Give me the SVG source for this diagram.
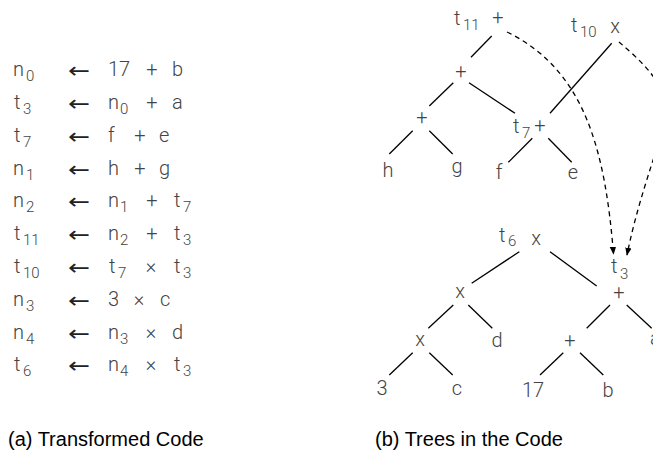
<svg xmlns="http://www.w3.org/2000/svg" width="653" height="452" viewBox="0 0 653 452">
<style>
.m{font-family:Roboto,"Liberation Sans",sans-serif;font-weight:300;font-size:20px;fill:#444}
.s{font-size:15px}
.ar{font-family:"DejaVu Sans",sans-serif;font-size:22px;fill:#222}
.mid{text-anchor:middle}
.cap{font-family:"Liberation Sans",Arial,sans-serif;font-size:20px;fill:#000}
.e line{stroke:#000;stroke-width:1.3}
.d{fill:none;stroke:#000;stroke-width:1.3;stroke-dasharray:5 4;marker-end:url(#ah)}
</style>
<defs>
<marker id="ah" viewBox="0 0 10 10" refX="9" refY="5" markerWidth="8" markerHeight="8" markerUnits="userSpaceOnUse" orient="auto">
<path d="M0,1 L10,5 L0,9 Z" fill="#000"/>
</marker>
</defs>
<g id="code">
<g id="r0"><text class="m" x="13" y="76">n</text><text class="m s" x="26" y="81">0</text><text class="ar" x="68" y="78" textLength="22" lengthAdjust="spacingAndGlyphs">←</text><text class="m" x="108" y="76">17</text><text class="m mid" x="152" y="76">+</text><text class="m" x="172" y="76">b</text></g>
<g id="r1"><text class="m" x="14" y="109">t</text><text class="m s" x="23" y="114">3</text><text class="ar" x="68" y="111" textLength="22" lengthAdjust="spacingAndGlyphs">←</text><text class="m" x="108" y="109">n</text><text class="m s" x="120" y="114">0</text><text class="m mid" x="152" y="109">+</text><text class="m" x="172" y="109">a</text></g>
<g id="r2"><text class="m" x="14" y="142">t</text><text class="m s" x="23" y="147">7</text><text class="ar" x="68" y="144" textLength="22" lengthAdjust="spacingAndGlyphs">←</text><text class="m" x="108" y="142">f</text><text class="m mid" x="140" y="142">+</text><text class="m" x="159" y="142">e</text></g>
<g id="r3"><text class="m" x="13" y="175">n</text><text class="m s" x="26" y="180">1</text><text class="ar" x="68" y="177" textLength="22" lengthAdjust="spacingAndGlyphs">←</text><text class="m" x="108" y="175">h</text><text class="m mid" x="140" y="175">+</text><text class="m" x="159" y="175">g</text></g>
<g id="r4"><text class="m" x="13" y="207">n</text><text class="m s" x="26" y="212">2</text><text class="ar" x="68" y="209" textLength="22" lengthAdjust="spacingAndGlyphs">←</text><text class="m" x="108" y="207">n</text><text class="m s" x="120" y="212">1</text><text class="m mid" x="152" y="207">+</text><text class="m" x="174" y="207">t</text><text class="m s" x="183" y="212">7</text></g>
<g id="r5"><text class="m" x="14" y="240">t</text><text class="m s" x="23" y="245">11</text><text class="ar" x="68" y="242" textLength="22" lengthAdjust="spacingAndGlyphs">←</text><text class="m" x="108" y="240">n</text><text class="m s" x="120" y="245">2</text><text class="m mid" x="152" y="240">+</text><text class="m" x="174" y="240">t</text><text class="m s" x="183" y="245">3</text></g>
<g id="r6"><text class="m" x="14" y="273">t</text><text class="m s" x="23" y="278">10</text><text class="ar" x="68" y="275" textLength="22" lengthAdjust="spacingAndGlyphs">←</text><text class="m" x="109" y="273">t</text><text class="m s" x="118" y="278">7</text><text class="m mid" x="151" y="273">×</text><text class="m" x="174" y="273">t</text><text class="m s" x="183" y="278">3</text></g>
<g id="r7"><text class="m" x="13" y="306">n</text><text class="m s" x="26" y="311">3</text><text class="ar" x="68" y="308" textLength="22" lengthAdjust="spacingAndGlyphs">←</text><text class="m" x="108" y="306">3</text><text class="m mid" x="139" y="306">×</text><text class="m" x="160" y="306">c</text></g>
<g id="r8"><text class="m" x="13" y="339">n</text><text class="m s" x="26" y="344">4</text><text class="ar" x="68" y="341" textLength="22" lengthAdjust="spacingAndGlyphs">←</text><text class="m" x="108" y="339">n</text><text class="m s" x="120" y="344">3</text><text class="m mid" x="151" y="339">×</text><text class="m" x="172" y="339">d</text></g>
<g id="r9"><text class="m" x="14" y="371">t</text><text class="m s" x="23" y="376">6</text><text class="ar" x="68" y="373" textLength="22" lengthAdjust="spacingAndGlyphs">←</text><text class="m" x="108" y="371">n</text><text class="m s" x="120" y="376">4</text><text class="m mid" x="151" y="371">×</text><text class="m" x="174" y="371">t</text><text class="m s" x="183" y="376">3</text></g>
</g>
<g id="connectors">
<g class="e">
<line x1="491.7" y1="36" x2="471" y2="57.3"/>
<line x1="453.3" y1="82.7" x2="429.3" y2="106"/>
<line x1="469" y1="82.7" x2="515" y2="113.3"/>
<line x1="412.7" y1="130.7" x2="389.3" y2="154"/>
<line x1="429.3" y1="130.7" x2="452.7" y2="154"/>
<line x1="532.3" y1="138.3" x2="508.3" y2="162.3"/>
<line x1="548.3" y1="138.3" x2="571.7" y2="162.3"/>
<line x1="611.7" y1="43.3" x2="550" y2="113.3"/>
<line x1="519.3" y1="251.7" x2="471.7" y2="283.3"/>
<line x1="550" y1="251.7" x2="596.7" y2="286"/>
<line x1="453.3" y1="305" x2="428.3" y2="328.3"/>
<line x1="468.3" y1="305" x2="492.3" y2="328.3"/>
<line x1="610" y1="305" x2="586.7" y2="328.3"/>
<line x1="626.7" y1="305" x2="651.7" y2="328.3"/>
<line x1="412.7" y1="352.7" x2="389.3" y2="375"/>
<line x1="429.3" y1="352.7" x2="452.7" y2="375"/>
<line x1="563.3" y1="352.7" x2="540" y2="375"/>
<line x1="580" y1="352.7" x2="603.3" y2="375"/>
</g>
<path class="d" d="M507,32 C585,70 605,150 613.5,254"/>
<path class="d" d="M619,42 C640,60 668,85 666,112 C664,135 640,190 627,255"/>
</g>
<g id="t11"><text class="m" x="454" y="25">t</text><text class="m s" x="463" y="30">11</text><text class="m mid" x="498" y="23.6">+</text></g>
<g id="t10"><text class="m" x="571" y="32">t</text><text class="m s" x="580" y="37">10</text><text class="m mid" x="615" y="33">x</text></g>
<g id="p2"><text class="m mid" x="461" y="77.6">+</text></g>
<g id="p3"><text class="m mid" x="422" y="123.6">+</text></g>
<g id="t7"><text class="m" x="513" y="133">t</text><text class="m s" x="522" y="138">7</text><text class="m mid" x="540" y="131.6">+</text></g>
<g id="h"><text class="m mid" x="388" y="177">h</text></g>
<g id="g"><text class="m mid" x="457" y="173.3">g</text></g>
<g id="f"><text class="m mid" x="499" y="179">f</text></g>
<g id="e"><text class="m mid" x="573" y="179.3">e</text></g>
<g id="t6"><text class="m" x="499" y="242">t</text><text class="m s" x="508" y="246">6</text><text class="m mid" x="536" y="245.3">x</text></g>
<g id="t3"><text class="m" x="611" y="273">t</text><text class="m s" x="620" y="279">3</text><text class="m mid" x="619" y="298.5">+</text></g>
<g id="x1"><text class="m mid" x="460" y="298.3">x</text></g>
<g id="x2"><text class="m mid" x="420" y="346.3">x</text></g>
<g id="d"><text class="m mid" x="497" y="347">d</text></g>
<g id="p4"><text class="m mid" x="570" y="346.6">+</text></g>
<g id="a"><text class="m" x="650" y="345">a</text></g>
<g id="n3"><text class="m mid" x="382" y="395">3</text></g>
<g id="c"><text class="m mid" x="457" y="395.3">c</text></g>
<g id="n17"><text class="m mid" x="533" y="397">17</text></g>
<g id="b"><text class="m mid" x="608" y="397">b</text></g>
<text class="cap" x="8" y="446">(a) Transformed Code</text>
<text class="cap" x="375" y="446">(b) Trees in the Code</text>
</svg>
